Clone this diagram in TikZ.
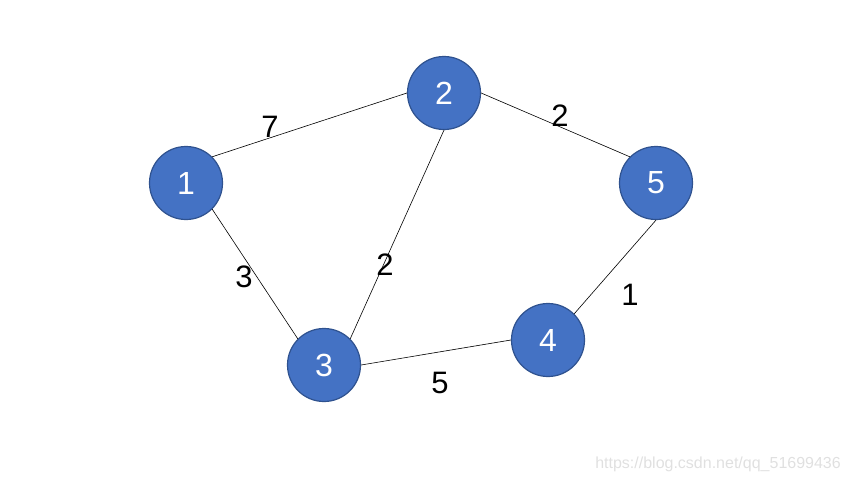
\documentclass[tikz,border=0pt]{standalone}
\usepackage{fontspec}
\setmainfont{Liberation Sans}
\usepackage{xcolor}
\usetikzlibrary{positioning}
\definecolor{vfill}{HTML}{4472C4}
\definecolor{vedge}{HTML}{2F528F}
\tikzset{
  vertex/.style={circle, draw=vedge, fill=vfill, line width=1.2pt,
                 minimum size=73pt, inner sep=0pt, text=white,
                 font=\fontsize{32}{36}\selectfont},
  link/.style  ={draw=black, line width=0.6pt},
  weight/.style={font=\fontsize{31}{36}\selectfont, text=black, inner sep=0pt},
  wmark/.style ={font=\fontsize{16}{18}\selectfont, text=black!12, inner sep=0pt},
}
\begin{document}
\begin{tikzpicture}[x=1pt, y=-1pt]
\useasboundingbox (0,0) rectangle (850,482);

% ---- vertices ----
\node[vertex] (v1) at (186,183) {1};
\node[vertex] (v2) at (444,93)  {2};
\node[vertex] (v3) at (324,365) {3};
\node[vertex] (v4) at (548,340) {4};
\node[vertex] (v5) at (656,183) {5};

% ---- edges (to connection points) ----
\draw[link] (v1.north east) -- (v2.west);
\draw[link] (v1.south east) -- (v3.north west);
\draw[link] (v2.south) -- (v3.north east);
\draw[link] (v2.east) -- (v5.north west);
\draw[link] (v3.east) -- (v4.west);
\draw[link] (v4.north east) -- (v5.south);

% ---- weights ----
\node[weight] (w12) at (270,127) {7};
\node[weight] (w13) at (244,277) {3};
\node[weight] (w23) at (385,265) {2};
\node[weight] (w25) at (560,116) {2};
\node[weight] (w34) at (440,383) {5};
\node[weight] (w45) at (630,295) {1};

% ---- watermark ----
\node[wmark, anchor=east] (wm) at (841,464) {https://blog.csdn.net/qq\_51699436};

\end{tikzpicture}
\end{document}
